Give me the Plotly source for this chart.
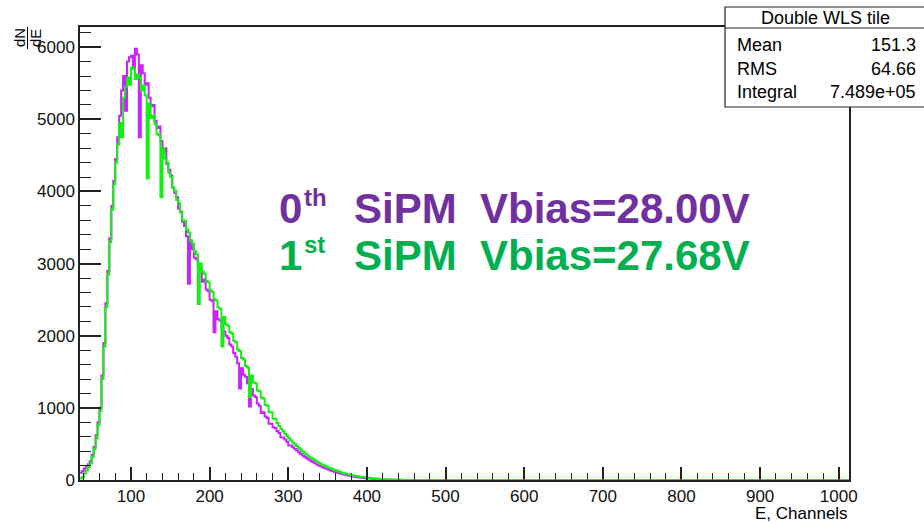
import plotly.graph_objects as go

# ---------------- data ----------------
BIN_START = 35          # lower edge of first filled bin (channels)
BIN_WIDTH = 2.5         # bin width (channels)
HIST_END = 1024         # histogram upper edge (empty beyond the tail)

# 0th SiPM, Vbias = 28.00 V   (10 bins per row = 25 channels)
sipm0_counts = [
    100, 120, 160, 190, 220, 260, 350, 460, 620, 800,            # 35
    1000, 1450, 1900, 2450, 2900, 3350, 3800, 4150, 4450, 4750,  # 60
    5050, 5400, 5600, 5120, 5800, 5860, 5880, 5700, 5980, 5900,  # 85
    4750, 5750, 5640, 5480, 5500, 5300, 5180, 5200, 4980, 4880,  # 110
    4900, 4700, 4560, 4600, 4380, 4300, 4220, 4050, 3980, 3920,  # 135
    3760, 3720, 3580, 3520, 3380, 2720, 3320, 3200, 3080, 3060,  # 160
    2940, 2920, 2750, 2780, 2640, 2620, 2500, 2480, 2050, 2340,  # 185
    2230, 2210, 2110, 2060, 2000, 1970, 1880, 1850, 1760, 1710,  # 210
    1620, 1270, 1550, 1460, 1430, 1340, 1020, 1260, 1170, 1150,  # 235
    1060, 1030, 930, 940, 880, 860, 780, 780, 730, 720,          # 260
    680, 650, 590, 590, 560, 530, 480, 480, 455, 430,            # 285
    410, 385, 360, 340, 320, 300, 285, 268, 250, 235,            # 310
    220, 205, 190, 178, 166, 155, 145, 134, 124, 115,            # 335
    106, 98, 90, 83, 76, 70, 63, 58, 52, 47,                     # 360
    43, 39, 35, 31, 28, 25, 22, 20, 17, 15,                      # 385
    13, 11, 10, 9, 7, 6, 5, 4, 4, 3,                             # 410
    3, 2, 2, 1, 1, 1, 1, 0, 0, 0,                                # 435
]

# 1st SiPM, Vbias = 27.68 V
sipm1_counts = [
    20, 40, 90, 130, 180, 230, 320, 430, 580, 760,               # 35
    960, 1400, 1850, 2400, 2850, 3300, 3750, 4100, 4400, 4650,   # 60
    4950, 4750, 5300, 5450, 5580, 5480, 5720, 5700, 5560, 5620,  # 85
    5580, 5400, 5470, 5330, 4180, 5220, 5020, 5050, 4930, 4800,  # 110
    4780, 3920, 4600, 4460, 4400, 4260, 4200, 4060, 4010, 3880,  # 135
    3840, 3710, 3600, 3590, 3470, 3430, 3320, 3280, 3170, 3130,  # 160
    2440, 3000, 2890, 2860, 2760, 2740, 2630, 2610, 2510, 2490,  # 185
    2390, 2370, 1850, 2260, 2160, 2140, 2050, 2030, 1930, 1910,  # 210
    1810, 1790, 1690, 1670, 1580, 1560, 1150, 1450, 1350, 1340,  # 235
    1240, 1230, 1140, 1130, 1040, 1030, 940, 940, 850, 850,      # 260
    790, 750, 710, 675, 640, 610, 580, 550, 520, 495,            # 285
    470, 445, 420, 395, 370, 350, 330, 312, 294, 276,            # 310
    258, 242, 227, 213, 200, 187, 175, 163, 151, 140,            # 335
    130, 120, 111, 102, 95, 87, 80, 73, 67, 61,                  # 360
    56, 51, 46, 42, 38, 34, 30, 27, 24, 21,                      # 385
    19, 17, 15, 13, 11, 9, 8, 7, 6, 5,                           # 410
    4, 3, 3, 2, 2, 1, 1, 1, 0, 0,                                # 435
]

series_labels = ["0th SiPM", "1st SiPM"]
stats_title = "Double WLS tile"
stats_names = ["Mean", "RMS", "Integral"]
stats_values = ["151.3", "64.66", "7.489e+05"]

x_ticks = [100, 200, 300, 400, 500, 600, 700, 800, 900, 1000]
y_ticks = [0, 1000, 2000, 3000, 4000, 5000, 6000]
X_RANGE = [35.2, 1013]
Y_RANGE = [0, 6280]

# ---------------- figure ----------------
W, H = 924, 523
L, R, T, B = 80, 75, 27, 43
PW, PH = W - L - R, H - T - B


def px_x(px):
    return (px - L) / PW


def px_y(py):
    return (H - B - py) / PH


def trace_xy(counts):
    edges = [BIN_START + i * BIN_WIDTH for i in range(len(counts))]
    return edges + [HIST_END], list(counts) + [counts[-1]]


PURPLE = "#cc22ff"
GREEN = "#11f011"
FONT = "Liberation Sans, Arial, sans-serif"

fig = go.Figure()
for counts, color, name in [(sipm0_counts, PURPLE, series_labels[0]),
                            (sipm1_counts, GREEN, series_labels[1])]:
    xs, ys = trace_xy(counts)
    fig.add_trace(go.Scatter(x=xs, y=ys, mode="lines", line_shape="hv",
                             line=dict(color=color, width=2), name=name,
                             showlegend=False))

axis_common = dict(showgrid=False, zeroline=False, showline=True, mirror=True,
                   linecolor="#222222", linewidth=1.5, ticks="inside",
                   tickcolor="#222222", tickwidth=1.5,
                   tickfont=dict(family=FONT, size=17, color="#111111"))

fig.update_xaxes(range=X_RANGE, tickmode="array", tickvals=x_ticks,
                 ticktext=[str(v) for v in x_ticks], ticklen=13,
                 minor=dict(dtick=20, tick0=0, ticklen=7, ticks="inside",
                            tickcolor="#222222", tickwidth=1.2),
                 **axis_common)
fig.update_yaxes(range=Y_RANGE, tickmode="array", tickvals=y_ticks,
                 ticktext=[str(v) for v in y_ticks], ticklen=21,
                 minor=dict(dtick=200, tick0=0, ticklen=11, ticks="inside",
                            tickcolor="#222222", tickwidth=1.2),
                 **axis_common)

shapes = []
annotations = []

# stats box
shapes.append(dict(type="rect", xref="paper", yref="paper",
                   x0=px_x(725), x1=px_x(940), y0=px_y(107), y1=px_y(7),
                   line=dict(color="#222222", width=1.2), fillcolor="white",
                   layer="above"))
shapes.append(dict(type="line", xref="paper", yref="paper",
                   x0=px_x(725), x1=px_x(940), y0=px_y(28), y1=px_y(28),
                   line=dict(color="#222222", width=1.2), layer="above"))
annotations.append(dict(xref="paper", yref="paper", x=px_x(825), y=px_y(18),
                        text=stats_title, showarrow=False, xanchor="center",
                        yanchor="middle", font=dict(family=FONT, size=18, color="black")))
for i, (n, v) in enumerate(zip(stats_names, stats_values)):
    yy = px_y(45 + i * 23.5)
    annotations.append(dict(xref="paper", yref="paper", x=px_x(735), y=yy, text=n,
                            showarrow=False, xanchor="left", yanchor="middle",
                            font=dict(family=FONT, size=18, color="black")))
    annotations.append(dict(xref="paper", yref="paper", x=px_x(918), y=yy, text=v,
                            showarrow=False, xanchor="right", yanchor="middle",
                            font=dict(family=FONT, size=18, color="black")))

# axis titles
annotations.append(dict(xref="paper", yref="paper", x=1.0, y=px_y(503),
                        text="E, Channels", showarrow=False, xanchor="right",
                        yanchor="top", borderpad=0,
                        font=dict(family=FONT, size=17, color="black")))
annotations.append(dict(xref="paper", yref="paper", x=px_x(19), y=px_y(38),
                        text="dN", textangle=-90, showarrow=False, xanchor="center",
                        yanchor="middle", borderpad=0,
                        font=dict(family=FONT, size=15, color="black")))
annotations.append(dict(xref="paper", yref="paper", x=px_x(35), y=px_y(38),
                        text="dE", textangle=-90, showarrow=False, xanchor="center",
                        yanchor="middle", borderpad=0,
                        font=dict(family=FONT, size=15, color="black")))
shapes.append(dict(type="line", xref="paper", yref="paper",
                   x0=px_x(27.5), x1=px_x(27.5), y0=px_y(27), y1=px_y(49),
                   line=dict(color="black", width=1)))

# big coloured labels (number, superscript, rest)
NB = "\u00a0"
big_labels = [
    ("0", "th", f"SiPM{NB*2}Vbias=28.00V", "#7030a0", 208),
    ("1", "st", f"SiPM{NB*2}Vbias=27.68V", "#00b050", 255),
]
for num, sup, rest, col, yc in big_labels:
    annotations.append(dict(xref="paper", yref="paper", x=px_x(278), y=px_y(yc),
                            text=f"<b>{num}</b>", showarrow=False, xanchor="left",
                            yanchor="middle", borderpad=0,
                            font=dict(family=FONT, size=42, color=col)))
    annotations.append(dict(xref="paper", yref="paper", x=px_x(303), y=px_y(yc - 11),
                            text=f"<b>{sup}</b>", showarrow=False, xanchor="left",
                            yanchor="middle", borderpad=0,
                            font=dict(family=FONT, size=24, color=col)))
    annotations.append(dict(xref="paper", yref="paper", x=px_x(353), y=px_y(yc),
                            text=f"<b>{rest}</b>", showarrow=False, xanchor="left",
                            yanchor="middle", borderpad=0,
                            font=dict(family=FONT, size=42, color=col)))

fig.update_layout(width=W, height=H, margin=dict(l=L, r=R, t=T, b=B),
                  paper_bgcolor="white", plot_bgcolor="white",
                  shapes=shapes, annotations=annotations, showlegend=False)

fig.write_html("out.html")
